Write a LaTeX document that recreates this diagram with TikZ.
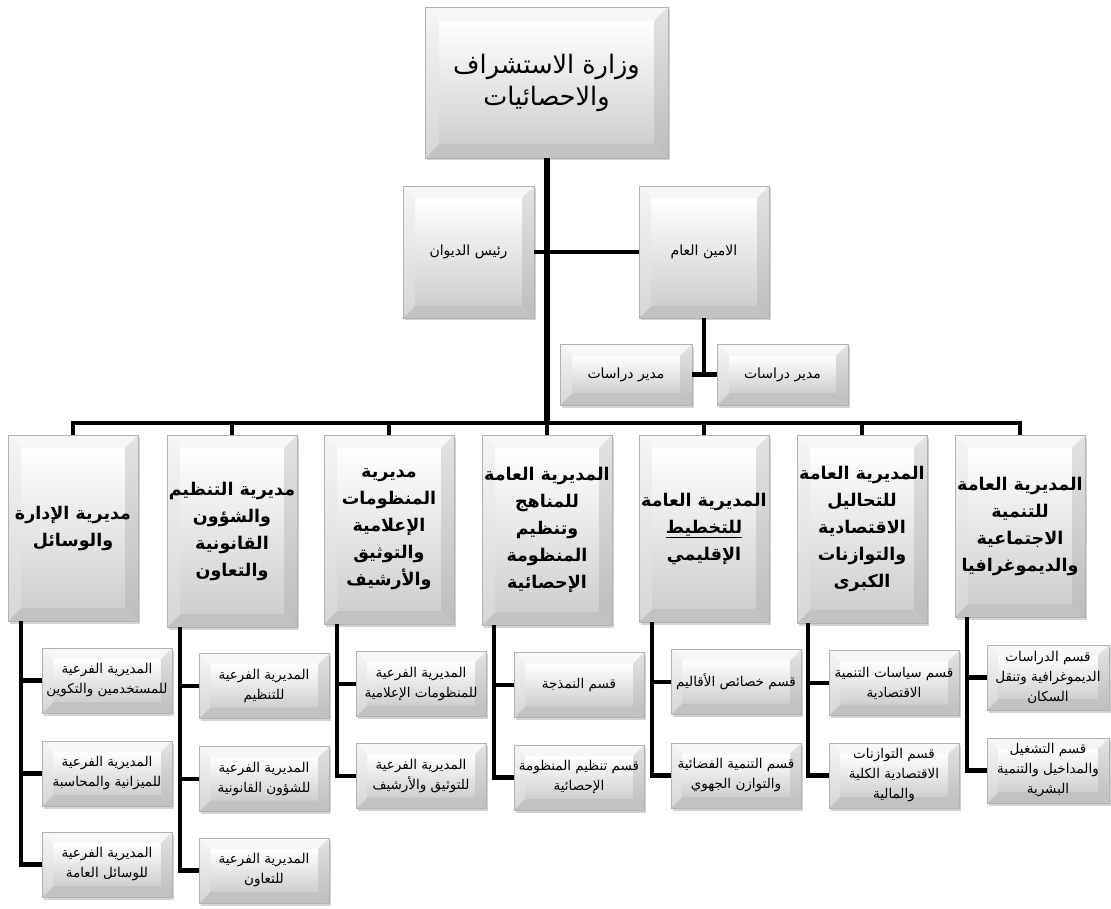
\documentclass[tikz,border=0pt]{standalone}
\usepackage{fontspec}
\usetikzlibrary{calc,shadows}
\TeXXeTstate=1
\newfontfamily\arabicfont[Script=Arabic]{DejaVu Sans}
\newcommand\rl[1]{\beginR #1\endR}
\tikzset{
  bevw/.store in=\bevw, bevw=11pt,
  bevelbox/.style={draw=gray!60, line width=0.5pt, fill=gray!20, inner sep=0pt, align=center,
    drop shadow={shadow xshift=2pt, shadow yshift=-2.5pt, opacity=0.35},
    path picture={
      \path (path picture bounding box.south west) coordinate (q1)
            (path picture bounding box.north west) coordinate (q2)
            (path picture bounding box.north east) coordinate (q3)
            (path picture bounding box.south east) coordinate (q4);
      \path ($(q1)+(\bevw,\bevw)$) coordinate (i1) ($(q2)+(\bevw,-\bevw)$) coordinate (i2)
            ($(q3)+(-\bevw,-\bevw)$) coordinate (i3) ($(q4)+(-\bevw,\bevw)$) coordinate (i4);
      \shade[top color=white, bottom color=gray!38] (i1) rectangle (i3);
      \fill[gray!6] (q2)--(q3)--(i3)--(i2)--cycle;
      \fill[gray!48] (q1)--(q4)--(i4)--(i1)--cycle;
      \shade[top color=gray!8, bottom color=gray!32] (q1)--(q2)--(i2)--(i1)--cycle;
      \shade[top color=gray!22, bottom color=gray!52] (q4)--(q3)--(i3)--(i4)--cycle;
    }},
  topbox/.style={bevelbox, bevw=14pt, font=\arabicfont\fontsize{25.5}{32}\selectfont},
  midbox/.style={bevelbox, bevw=12pt, font=\arabicfont\fontsize{14}{18}\selectfont},
  headbox/.style={bevelbox, bevw=13pt, minimum width=130pt, font=\arabicfont\bfseries\fontsize{17.5}{27}\selectfont},
  subbox/.style={bevelbox, bevw=11pt, minimum width=130pt, minimum height=65pt, font=\arabicfont\fontsize{13.5}{20}\selectfont},
  conn/.style={line width=4.5pt, black},
}
\begin{document}
\begin{tikzpicture}[x=1pt,y=-1pt]
\useasboundingbox (0,0) rectangle (1111,909);
% top level
\node[topbox, minimum width=243pt, minimum height=151pt] (top) at (546.5,82.5) {\rl{وزارة الاستشراف}\\\rl{والاحصائيات}};
\node[midbox, minimum width=131pt, minimum height=132pt] (rais) at (468.5,252) {\rl{رئيس الديوان}};
\node[midbox, minimum width=130pt, minimum height=132pt] (amin) at (704,252) {\rl{الامين العام}};
\node[midbox, minimum width=132pt, minimum height=61pt] (mudL) at (626,374.5) {\rl{مدير دراسات}};
\node[midbox, minimum width=131pt, minimum height=61pt] (mudR) at (782.5,374.5) {\rl{مدير دراسات}};
% headers
\node[headbox, minimum height=186pt] (c1) at (73,528) {\rl{مديرية الإدارة}\\\rl{والوسائل}};
\node[headbox, minimum height=192pt] (c2) at (232,531) {\rl{مديرية التنظيم}\\\rl{والشؤون}\\\rl{القانونية}\\\rl{والتعاون}};
\node[headbox, minimum height=189pt] (c3) at (389,529.5) {\rl{مديرية}\\\rl{المنظومات}\\\rl{الإعلامية}\\\rl{والتوثيق}\\\rl{والأرشيف}};
\node[headbox, minimum height=190pt] (c4) at (547,530) {\rl{المديرية العامة}\\\rl{للمناهج}\\\rl{وتنظيم}\\\rl{المنظومة}\\\rl{الإحصائية}};
\node[headbox, minimum height=187pt] (c5) at (704,528.5) {\rl{المديرية العامة}\\\underline{للتخطيط}\\\rl{الإقليمي}};
\node[headbox, minimum height=188pt] (c6) at (862,529) {\rl{المديرية العامة}\\\rl{للتحاليل}\\\rl{الاقتصادية}\\\rl{والتوازنات}\\\rl{الكبرى}};
\node[headbox, minimum height=182pt] (c7) at (1020,526) {\rl{المديرية العامة}\\\rl{للتنمية}\\\rl{الاجتماعية}\\\rl{والديموغرافيا}};
% sub boxes
\node[subbox] (s11) at (107,680.5) {\rl{المديرية الفرعية}\\\rl{للمستخدمين والتكوين}};
\node[subbox] (s12) at (107,773.5) {\rl{المديرية الفرعية}\\\rl{للميزانية والمحاسبة}};
\node[subbox] (s13) at (107,864.5) {\rl{المديرية الفرعية}\\\rl{للوسائل العامة}};
\node[subbox] (s21) at (264,686) {\rl{المديرية الفرعية}\\\rl{للتنظيم}};
\node[subbox] (s22) at (264,779) {\rl{المديرية الفرعية}\\\rl{للشؤون القانونية}};
\node[subbox] (s23) at (264,870.5) {\rl{المديرية الفرعية}\\\rl{للتعاون}};
\node[subbox] (s31) at (421,684) {\rl{المديرية الفرعية}\\\rl{للمنظومات الإعلامية}};
\node[subbox] (s32) at (421,776) {\rl{المديرية الفرعية}\\\rl{للتوثيق والأرشيف}};
\node[subbox] (s41) at (579,685) {\rl{قسم النمذجة}};
\node[subbox] (s42) at (579,777.5) {\rl{قسم تنظيم المنظومة}\\\rl{الإحصائية}};
\node[subbox] (s51) at (736,682) {\rl{قسم خصائص الأقاليم}};
\node[subbox] (s52) at (736,775.5) {\rl{قسم التنمية الفضائية}\\\rl{والتوازن الجهوي}};
\node[subbox] (s61) at (894,683) {\rl{قسم سياسات التنمية}\\\rl{الاقتصادية}};
\node[subbox] (s62) at (894,775.5) {\rl{قسم التوازنات}\\\rl{الاقتصادية الكلية}\\\rl{والمالية}};
\node[subbox, minimum width=122pt] (s71) at (1048,677.5) {\rl{قسم الدراسات}\\\rl{الديموغرافية وتنقل}\\\rl{السكان}};
\node[subbox, minimum width=122pt] (s72) at (1048,770.5) {\rl{قسم التشغيل}\\\rl{والمداخيل والتنمية}\\\rl{البشرية}};
% connectors
\coordinate (bus) at (546.5,423);
\draw[conn, line width=6pt] (top.south) -- (bus);
\draw[conn] (rais.east) -- (amin.west);
\draw[conn] (amin.south) -- (amin.south |- mudL.east);
\draw[conn] (mudL.east) -- (mudR.west);
\foreach \c in {c1,c2,c3,c4,c5,c6,c7}{\draw[conn] (bus) -| (\c.north);}
\draw[conn] ([xshift=13pt]c1.south west) |- (s13.west);
\draw[conn] ([xshift=13pt]c1.south west) |- (s11.west);
\draw[conn] ([xshift=13pt]c1.south west) |- (s12.west);
\draw[conn] ([xshift=13pt]c2.south west) |- (s23.west);
\draw[conn] ([xshift=13pt]c2.south west) |- (s21.west);
\draw[conn] ([xshift=13pt]c2.south west) |- (s22.west);
\draw[conn] ([xshift=13pt]c3.south west) |- (s32.west);
\draw[conn] ([xshift=13pt]c3.south west) |- (s31.west);
\draw[conn] ([xshift=12pt]c4.south west) |- (s42.west);
\draw[conn] ([xshift=12pt]c4.south west) |- (s41.west);
\draw[conn] ([xshift=13pt]c5.south west) |- (s52.west);
\draw[conn] ([xshift=13pt]c5.south west) |- (s51.west);
\draw[conn] ([xshift=11pt]c6.south west) |- (s62.west);
\draw[conn] ([xshift=11pt]c6.south west) |- (s61.west);
\draw[conn] ([xshift=12pt]c7.south west) |- (s72.west);
\draw[conn] ([xshift=12pt]c7.south west) |- (s71.west);
\end{tikzpicture}
\end{document}
